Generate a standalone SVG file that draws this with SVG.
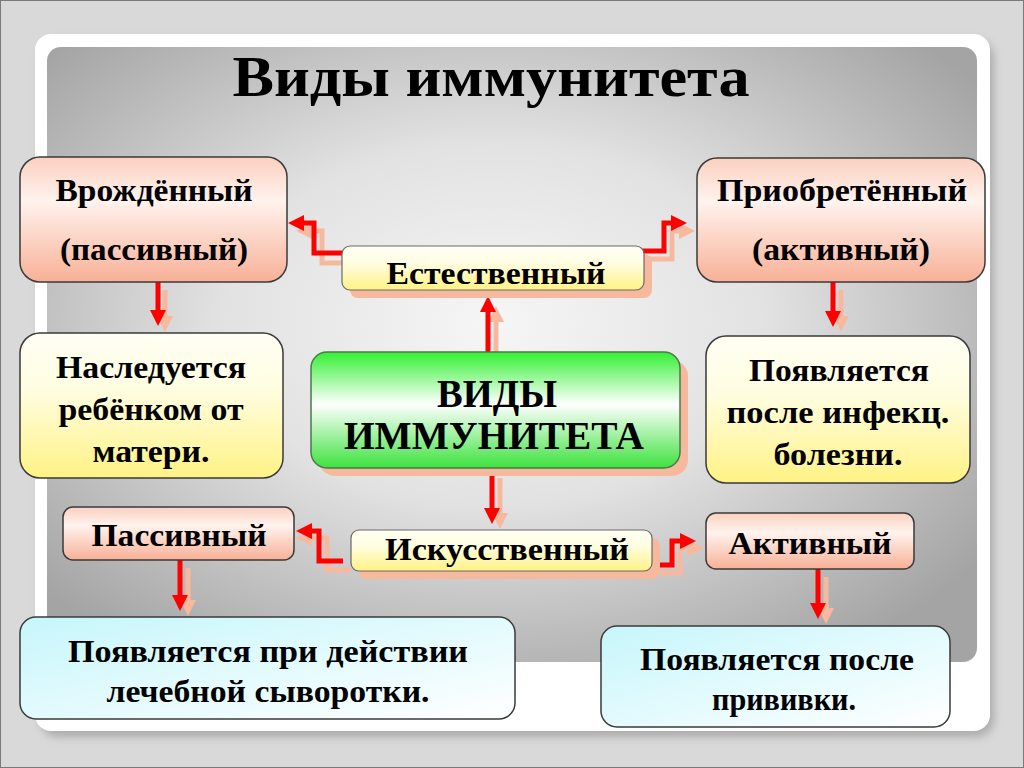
<svg xmlns="http://www.w3.org/2000/svg" width="1024" height="768" viewBox="0 0 1024 768">
<defs>
<style>
.t{font-family:"Liberation Serif","Times New Roman",serif;font-weight:bold;fill:#000;text-anchor:middle}
.bx{stroke:#3a3a3a;stroke-width:1.5}
.red{fill:none;stroke:#ff0000;stroke-width:5;marker-end:url(#ar)}
.sh{fill:none;stroke:#f7b99e;stroke-width:5;marker-end:url(#as)}
.shb{fill:#f7b99e}
</style>
<marker id="ar" markerUnits="userSpaceOnUse" markerWidth="16" markerHeight="16" refX="1" refY="8" orient="auto"><path d="M0,0 L16,8 L0,16 z" fill="#ff0000"/></marker>
<marker id="as" markerUnits="userSpaceOnUse" markerWidth="16" markerHeight="16" refX="1" refY="8" orient="auto"><path d="M0,0 L16,8 L0,16 z" fill="#f7b99e"/></marker>
<radialGradient id="bg" cx="0.48" cy="0.45" r="0.65">
<stop offset="0" stop-color="#f6f6f6"/><stop offset="0.45" stop-color="#e2e2e2"/><stop offset="1" stop-color="#a4a4a4"/>
</radialGradient>
<linearGradient id="salmon" x1="0" y1="0" x2="0" y2="1">
<stop offset="0" stop-color="#fbd0bf"/><stop offset="0.35" stop-color="#fff3ee"/><stop offset="1" stop-color="#f8b096"/>
</linearGradient>
<linearGradient id="yellow" x1="0" y1="0" x2="0" y2="1">
<stop offset="0" stop-color="#fffff4"/><stop offset="0.4" stop-color="#fffde0"/><stop offset="1" stop-color="#fff284"/>
</linearGradient>
<linearGradient id="green" x1="0" y1="0" x2="0" y2="1">
<stop offset="0" stop-color="#33f033"/><stop offset="0.45" stop-color="#ffffff"/><stop offset="1" stop-color="#3de23d"/>
</linearGradient>
<linearGradient id="cyan" x1="0" y1="0" x2="1" y2="1">
<stop offset="0" stop-color="#c6f6fb"/><stop offset="1" stop-color="#ffffff"/>
</linearGradient>
<filter id="fs" x="-5%" y="-5%" width="115%" height="115%"><feGaussianBlur stdDeviation="4"/></filter>
</defs>

<rect x="0.5" y="0.5" width="1023" height="767" fill="#d9d9d9" stroke="#7a7a7a"/>
<rect x="40" y="40" width="954" height="697" rx="18" fill="#9a9a9a" filter="url(#fs)" opacity="0.7"/>
<rect x="35" y="34" width="955" height="697" rx="16" fill="#ffffff"/>
<rect x="47" y="47" width="930" height="615" rx="14" fill="url(#bg)"/>

<text class="t" x="491" y="96" font-size="56" textLength="517" lengthAdjust="spacingAndGlyphs">Виды иммунитета</text>

<g id="connectors">
<path class="sh" d="M351,263 H322 V231 H311"/>
<path class="red" d="M343,253 H314 V223 H303"/>
<path class="sh" d="M648,259 H672 V231 H680"/>
<path class="red" d="M640,251 H664 V223 H672"/>
<path class="sh" d="M165,290 V317"/>
<path class="red" d="M158,282 V311"/>
<path class="sh" d="M841,290 V317"/>
<path class="red" d="M833,282 V312"/>
<path class="sh" d="M496,352 V321"/>
<path class="red" d="M488,352 V311"/>
<path class="sh" d="M500,478 V514"/>
<path class="red" d="M492,470 V509"/>
<path class="sh" d="M351,570 H327 V538 H311"/>
<path class="red" d="M343,561 H319 V531 H311"/>
<path class="sh" d="M660,573 H680 V548 H689"/>
<path class="red" d="M652,565 H672 V541 H681"/>
<path class="sh" d="M188,568 V601"/>
<path class="red" d="M180,560 V596"/>
<path class="sh" d="M826,577 V609"/>
<path class="red" d="M818,569 V604"/>
</g>

<g id="vrozhd">
<rect class="bx" x="20" y="157" width="267" height="125" rx="20" fill="url(#salmon)"/>
<text class="t" x="154" y="201" font-size="31" textLength="197" lengthAdjust="spacingAndGlyphs">Врождённый</text>
<text class="t" x="154" y="260" font-size="31" textLength="188" lengthAdjust="spacingAndGlyphs">(пассивный)</text>
</g>

<g id="priobr">
<rect class="bx" x="697" y="158" width="288" height="124" rx="20" fill="url(#salmon)"/>
<text class="t" x="842" y="201" font-size="31" textLength="250" lengthAdjust="spacingAndGlyphs">Приобретённый</text>
<text class="t" x="841" y="260" font-size="31" textLength="178" lengthAdjust="spacingAndGlyphs">(активный)</text>
</g>

<g id="estestv">
<rect class="shb" x="350" y="254" width="302" height="44" rx="8"/>
<rect x="342" y="246" width="302" height="44" rx="8" fill="url(#yellow)" stroke="#6a6a6a" stroke-width="1.2"/>
<text class="t" x="496" y="284" font-size="31" textLength="219" lengthAdjust="spacingAndGlyphs">Естественный</text>
</g>

<g id="center">
<rect class="shb" x="319" y="360" width="369" height="116" rx="16"/>
<rect x="311" y="352" width="369" height="116" rx="16" fill="url(#green)" stroke="#4a7a4a" stroke-width="1.5"/>
<text class="t" x="497" y="407" font-size="40" textLength="120" lengthAdjust="spacingAndGlyphs">ВИДЫ</text>
<text class="t" x="494" y="449" font-size="40" textLength="300" lengthAdjust="spacingAndGlyphs">ИММУНИТЕТА</text>
</g>

<g id="nasled">
<rect class="bx" x="20" y="333" width="263" height="145" rx="20" fill="url(#yellow)"/>
<text class="t" x="151" y="378" font-size="31" textLength="190" lengthAdjust="spacingAndGlyphs">Наследуется</text>
<text class="t" x="151" y="420" font-size="31" textLength="185" lengthAdjust="spacingAndGlyphs">ребёнком от</text>
<text class="t" x="151" y="462" font-size="31" textLength="117" lengthAdjust="spacingAndGlyphs">матери.</text>
</g>

<g id="poyavl-infekc">
<rect class="bx" x="706" y="336" width="264" height="147" rx="20" fill="url(#yellow)"/>
<text class="t" x="839" y="381" font-size="31" textLength="180" lengthAdjust="spacingAndGlyphs">Появляется</text>
<text class="t" x="838" y="423" font-size="31" textLength="223" lengthAdjust="spacingAndGlyphs">после инфекц.</text>
<text class="t" x="838" y="465" font-size="31" textLength="129" lengthAdjust="spacingAndGlyphs">болезни.</text>
</g>

<g id="passiv">
<rect class="bx" x="63" y="507" width="231" height="53" rx="10" fill="url(#salmon)"/>
<text class="t" x="179" y="546" font-size="31" textLength="175" lengthAdjust="spacingAndGlyphs">Пассивный</text>
</g>

<g id="iskusstv">
<rect class="shb" x="359" y="538" width="301" height="41" rx="8"/>
<rect x="351" y="530" width="301" height="41" rx="8" fill="url(#yellow)" stroke="#6a6a6a" stroke-width="1.2"/>
<text class="t" x="507" y="560" font-size="31" textLength="244" lengthAdjust="spacingAndGlyphs">Искусственный</text>
</g>

<g id="aktiv">
<rect class="bx" x="706" y="513" width="208" height="56" rx="10" fill="url(#salmon)"/>
<text class="t" x="810" y="554" font-size="31" textLength="163" lengthAdjust="spacingAndGlyphs">Активный</text>
</g>

<g id="poyavl-syv">
<rect class="bx" x="20" y="617" width="495" height="102" rx="16" fill="url(#cyan)"/>
<text class="t" x="268" y="662" font-size="31" textLength="400" lengthAdjust="spacingAndGlyphs">Появляется при действии</text>
<text class="t" x="268" y="702" font-size="31" textLength="323" lengthAdjust="spacingAndGlyphs">лечебной сыворотки.</text>
</g>

<g id="poyavl-priv">
<rect class="bx" x="601" y="626" width="349" height="101" rx="16" fill="url(#cyan)"/>
<text class="t" x="777" y="670" font-size="31" textLength="274" lengthAdjust="spacingAndGlyphs">Появляется после</text>
<text class="t" x="784" y="710" font-size="31" textLength="144" lengthAdjust="spacingAndGlyphs">прививки.</text>
</g>
</svg>
